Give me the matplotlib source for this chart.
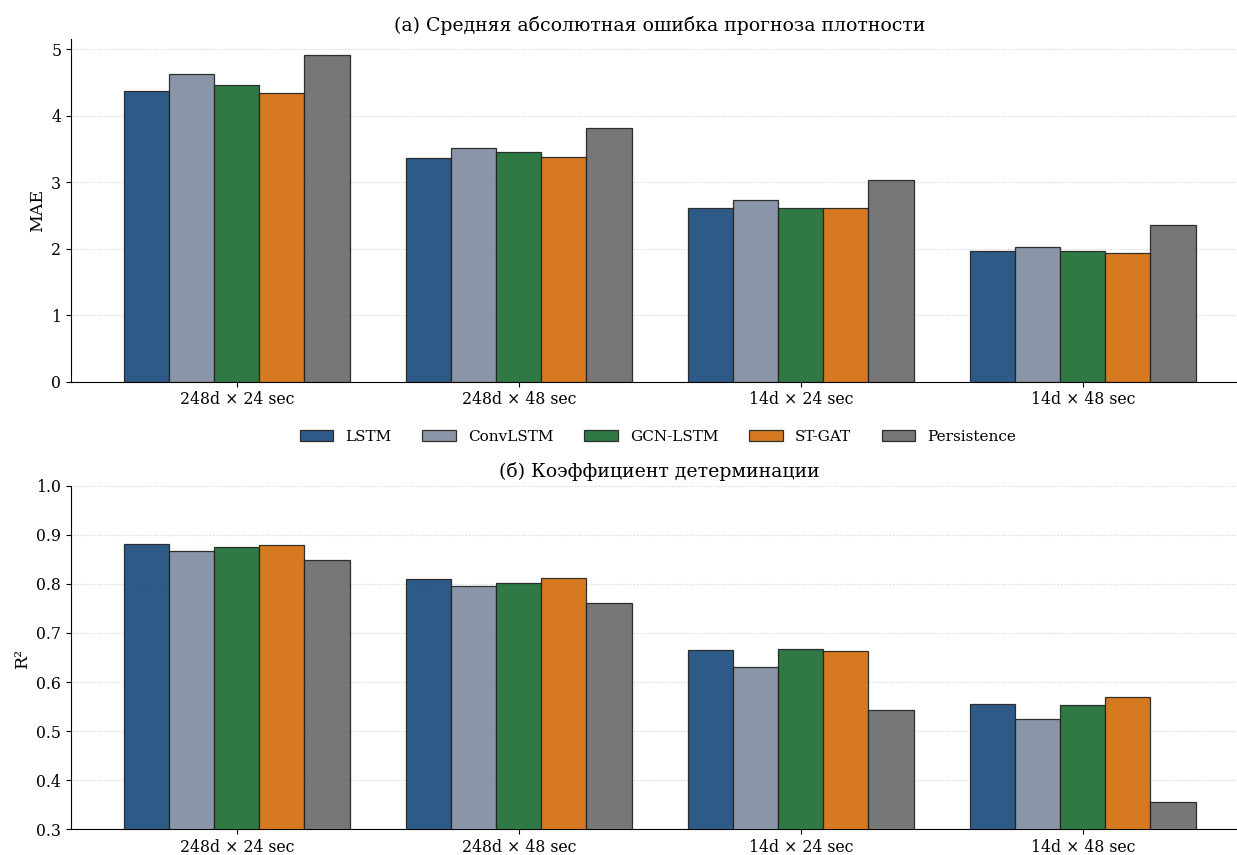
import matplotlib
matplotlib.use("Agg")
import matplotlib.pyplot as plt
import matplotlib.colors as mcolors
import numpy as np

plt.rcParams['font.family'] = ['DejaVu Serif']

categories = ["248d × 24 sec", "248d × 48 sec", "14d × 24 sec", "14d × 48 sec"]
models = ["LSTM", "ConvLSTM", "GCN-LSTM", "ST-GAT", "Persistence"]
colors = ["#2E5A87", "#8A96A8", "#2F7A45", "#D77A20", "#777777"]

mae_lstm = [4.37, 3.37, 2.61, 1.97]
mae_convlstm = [4.63, 3.52, 2.73, 2.02]
mae_gcnlstm = [4.47, 3.46, 2.62, 1.96]
mae_stgat = [4.34, 3.38, 2.61, 1.94]
mae_persistence = [4.91, 3.81, 3.04, 2.35]

r2_lstm = [0.882, 0.810, 0.665, 0.555]
r2_convlstm = [0.867, 0.795, 0.630, 0.525]
r2_gcnlstm = [0.875, 0.802, 0.667, 0.554]
r2_stgat = [0.880, 0.811, 0.664, 0.569]
r2_persistence = [0.848, 0.762, 0.542, 0.355]

mae = [mae_lstm, mae_convlstm, mae_gcnlstm, mae_stgat, mae_persistence]
r2 = [r2_lstm, r2_convlstm, r2_gcnlstm, r2_stgat, r2_persistence]

ALPHA = 0.92
def base_color(c):
    rgb = np.array(mcolors.to_rgb(c))
    return tuple(np.clip((rgb - (1 - ALPHA)) / ALPHA, 0, 1))

fig = plt.figure(figsize=(12.37, 8.55), dpi=100)
ax1 = fig.add_axes([0.0574, 0.5538, 0.9426, 0.4004])
ax2 = fig.add_axes([0.0574, 0.0301, 0.9426, 0.4018])

x = np.arange(len(categories))
w = 0.16

def draw(ax, data):
    handles = []
    for i, (m, vals) in enumerate(zip(models, data)):
        h = ax.bar(x + (i - 2) * w, vals, w, color=base_color(colors[i]), alpha=ALPHA,
                   edgecolor="#222222", linewidth=0.9, label=m, zorder=3)
        handles.append(h)
    ax.set_xticks(x)
    ax.set_xticklabels(categories, fontsize=11.3)
    ax.tick_params(axis='y', labelsize=11.3)
    ax.set_xlim(-0.588, 3.547)
    ax.spines['top'].set_visible(False)
    ax.spines['right'].set_visible(False)
    ax.yaxis.grid(True, linestyle=':', color='#d0d0d0', linewidth=0.8, zorder=0)
    ax.set_axisbelow(True)
    return handles

handles = draw(ax1, mae)
ax1.set_ylim(0, 5.155)
ax1.set_yticks([0, 1, 2, 3, 4, 5])
ax1.set_ylabel("MAE", fontsize=12.5)
ax1.set_title("(а) Средняя абсолютная ошибка прогноза плотности", fontsize=13.6, x=0.5047)

draw(ax2, r2)
ax2.set_ylim(0.3, 1.0)
ax2.set_yticks(np.arange(0.3, 1.01, 0.1))
ax2.set_yticklabels([f"{v:.1f}" for v in np.arange(0.3, 1.01, 0.1)])
ax2.set_ylabel("R²", fontsize=12.5)
ax2.set_title("(б) Коэффициент детерминации", fontsize=13.6, x=0.5047)

fig.legend(handles, models, loc='center', bbox_to_anchor=(0.532, 1 - 437 / 855),
           ncol=5, frameon=False, fontsize=11, handlelength=2.2, columnspacing=2.0)

fig.savefig("out.png", dpi=100)
